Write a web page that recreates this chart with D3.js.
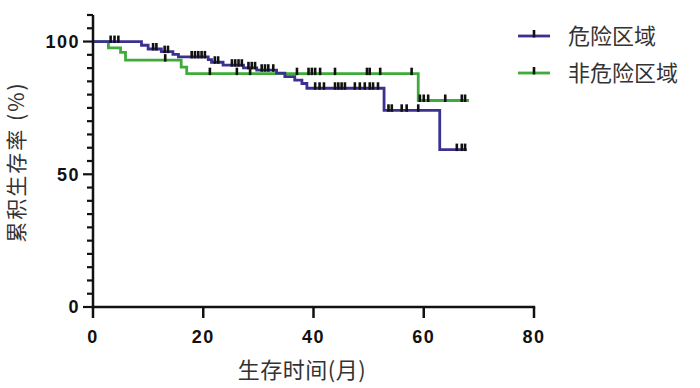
<!DOCTYPE html>
<html lang="zh">
<head>
  <meta charset="UTF-8">
  <title>累积生存曲线</title>
  <script src="https://d3js.org/d3.v7.min.js"></script>
  <style>
    body { margin: 0; background: #fff; }
    .tick-label {
      font: bold 18px "Liberation Sans", Arial, sans-serif;
      letter-spacing: 1.5px;
      fill: #111;
    }
    .axis-title, .legend-text {
      font-family: "Noto Sans CJK SC", sans-serif;
      fill: #333;
    }
  </style>
</head>
<body>
  <svg width="700" height="388"></svg>
  <script>
    // groups
    const groups = ["危险区域", "非危险区域"];
    const colors = ["#3b3190", "#3fab3a"];

    // 危险区域: step times (months) and survival (%)
    const riskTimes = [0, 8.8, 10, 12.4, 14.5, 15.5, 20.9, 21.5, 23.6, 27.3, 29.7, 33.3, 34.8, 36.6, 37.9, 38.8, 52.8, 62.9];
    const riskSurv  = [100, 98.6, 97.2, 96.2, 95.2, 94.2, 93.2, 92.2, 91.1, 90.1, 89.2, 88.1, 86.8, 85.5, 84.2, 82.4, 74.1, 59.3];
    const riskEnd = 67.8;
    const riskCensor = [3.2, 3.9, 4.6, 10.9, 11.5, 13, 13.6, 17.9, 18.5, 19.1, 19.7, 20.3, 22.1, 22.7,
      25.2, 25.8, 26.4, 27, 28.2, 28.8, 29.4, 30.6, 31.2, 31.8, 32.7, 40.3, 41.1, 41.9, 43.9, 44.5,
      45.1, 45.7, 47.5, 48.4, 49.3, 50.2, 50.8, 51.7, 53.6, 54.2, 56, 56.9, 59, 66, 66.9, 67.5];

    // 非危险区域
    const safeTimes = [0, 2.8, 5, 5.9, 16, 17, 59];
    const safeSurv  = [100, 97.6, 95.9, 93.0, 90.4, 87.9, 77.8];
    const safeEnd = 68.2;
    const safeCensor = [13.1, 21.2, 26.1, 28.5, 37, 39.1, 39.7, 40.3, 41.2, 43.9, 49.7, 50.2, 52.1,
      57.8, 59.3, 60, 60.8, 63.9, 66.9, 67.5];

    // axis ticks
    const xTicks = [0, 20, 40, 60, 80];
    const yTicks = [0, 50, 100];
    const yMinor = d3.range(0, 111, 5);

    const svg = d3.select("svg");

    const x = d3.scaleLinear().domain([0, 80]).range([93, 534]);
    const y = d3.scaleLinear().domain([0, 110]).range([307, 15]);

    const series = [
      { name: groups[1], color: colors[1], times: safeTimes, surv: safeSurv, end: safeEnd, censor: safeCensor },
      { name: groups[0], color: colors[0], times: riskTimes, surv: riskSurv, end: riskEnd, censor: riskCensor }
    ];

    const line = d3.line()
      .x(d => x(d[0]))
      .y(d => y(d[1]))
      .curve(d3.curveStepAfter);

    // survival at time t (step function)
    function survAt(s, t) {
      const i = d3.bisectRight(s.times, t) - 1;
      return s.surv[Math.max(0, i)];
    }

    series.forEach(s => {
      const pts = s.times.map((t, i) => [t, s.surv[i]]);
      pts.push([s.end, s.surv[s.surv.length - 1]]);

      svg.append("path")
        .datum(pts)
        .attr("fill", "none")
        .attr("stroke", s.color)
        .attr("stroke-width", 2.8)
        .attr("d", line);

      svg.append("g")
        .selectAll("line")
        .data(s.censor)
        .enter().append("line")
          .attr("x1", d => x(d))
          .attr("x2", d => x(d))
          .attr("y1", d => y(survAt(s, d)) - 6)
          .attr("y2", d => y(survAt(s, d)) + 1.5)
          .attr("stroke", "#111")
          .attr("stroke-width", 2.6);
    });

    // axes
    const xAxis = svg.append("g").attr("transform", "translate(0,307)");
    xAxis.append("line")
      .attr("x1", x(0) - 1.2).attr("x2", x(80) + 1.2)
      .attr("stroke", "#111").attr("stroke-width", 2.5);
    xAxis.selectAll(".xt")
      .data(xTicks)
      .enter().append("line")
        .attr("x1", d => x(d)).attr("x2", d => x(d))
        .attr("y1", 0).attr("y2", 11)
        .attr("stroke", "#111").attr("stroke-width", 2.5);
    xAxis.selectAll("text")
      .data(xTicks)
      .enter().append("text")
        .attr("class", "tick-label")
        .attr("x", d => x(d))
        .attr("y", 36)
        .attr("text-anchor", "middle")
        .text(d => d);

    const yAxis = svg.append("g").attr("transform", "translate(93,0)");
    yAxis.append("line")
      .attr("y1", y(110)).attr("y2", y(0) + 1.2)
      .attr("stroke", "#111").attr("stroke-width", 2.5);
    yAxis.selectAll(".yt")
      .data(yMinor)
      .enter().append("line")
        .attr("x1", d => yTicks.includes(d) ? -10 : -6).attr("x2", 0)
        .attr("y1", d => y(d)).attr("y2", d => y(d))
        .attr("stroke", "#111").attr("stroke-width", 2.2);
    yAxis.selectAll("text")
      .data(yTicks)
      .enter().append("text")
        .attr("class", "tick-label")
        .attr("x", -13)
        .attr("y", d => y(d))
        .attr("dy", "0.36em")
        .attr("text-anchor", "end")
        .text(d => d);

    // axis titles
    svg.append("text")
      .attr("class", "axis-title")
      .attr("x", 302).attr("y", 378)
      .attr("text-anchor", "middle")
      .attr("font-size", 22)
      .attr("letter-spacing", 0.5)
      .text("生存时间(月)");

    svg.append("text")
      .attr("class", "axis-title")
      .attr("transform", "translate(24,162) rotate(-90)")
      .attr("text-anchor", "middle")
      .attr("font-size", 21)
      .attr("letter-spacing", 2)
      .text("累积生存率 (%)");

    // legend
    const legend = svg.append("g")
      .selectAll("g")
      .data([series[1], series[0]])
      .enter().append("g")
        .attr("transform", (d, i) => `translate(518,${36 + i * 37})`);
    legend.append("line")
      .attr("x1", 0).attr("x2", 32)
      .attr("stroke", d => d.color)
      .attr("stroke-width", 2.8);
    legend.append("line")
      .attr("x1", 16).attr("x2", 16)
      .attr("y1", -6).attr("y2", 1.5)
      .attr("stroke", "#111").attr("stroke-width", 2.6);
    legend.append("text")
      .attr("class", "legend-text")
      .attr("x", 50)
      .attr("dy", "0.36em")
      .attr("font-size", 22)
      .text(d => d.name);
  </script>
</body>
</html>
